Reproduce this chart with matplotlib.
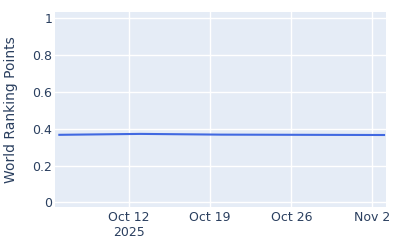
import datetime as dt
import matplotlib
matplotlib.use('Agg')
import matplotlib.pyplot as plt
import matplotlib.dates as mdates

# weekly world ranking points
dates = [dt.date(2025, 10, 6), dt.date(2025, 10, 13), dt.date(2025, 10, 20),
         dt.date(2025, 10, 27), dt.date(2025, 11, 3)]
points = [0.367, 0.372, 0.368, 0.367, 0.366]

tick_dates = [dt.date(2025, 10, 12), dt.date(2025, 10, 19),
              dt.date(2025, 10, 26), dt.date(2025, 11, 2)]
tick_labels = ['Oct 12\n2025', 'Oct 19', 'Oct 26', 'Nov 2']
y_ticks = [0, 0.2, 0.4, 0.6, 0.8, 1]
y_labels = ['0', '0.2', '0.4', '0.6', '0.8', '1']

text_color = '#2a3f5f'

fig = plt.figure(figsize=(4, 2.5), dpi=100)
ax = fig.add_axes([0.1375, 0.172, 0.8275, 0.78])
ax.set_facecolor('#E5ECF6')
for s in ax.spines.values():
    s.set_visible(False)

ax.plot(dates, points, color='#4169E1', linewidth=1.5, zorder=3)

ax.set_xlim(mdates.date2num(dt.datetime(2025, 10, 5, 15)),
            mdates.date2num(dt.datetime(2025, 11, 3, 4)))
ax.set_ylim(-0.025, 1.034)

ax.set_xticks(tick_dates)
ax.set_xticklabels(tick_labels)
ax.set_yticks(y_ticks)
ax.set_yticklabels(y_labels)
ax.tick_params(length=0, labelsize=9, colors=text_color)
ax.tick_params(axis='x', pad=3)
ax.tick_params(axis='y', pad=2)
ax.grid(True, color='white', linewidth=1)
ax.set_axisbelow(True)

ax.set_ylabel('World Ranking Points', fontsize=10, color=text_color, labelpad=10)

fig.savefig('out.png', dpi=100)
